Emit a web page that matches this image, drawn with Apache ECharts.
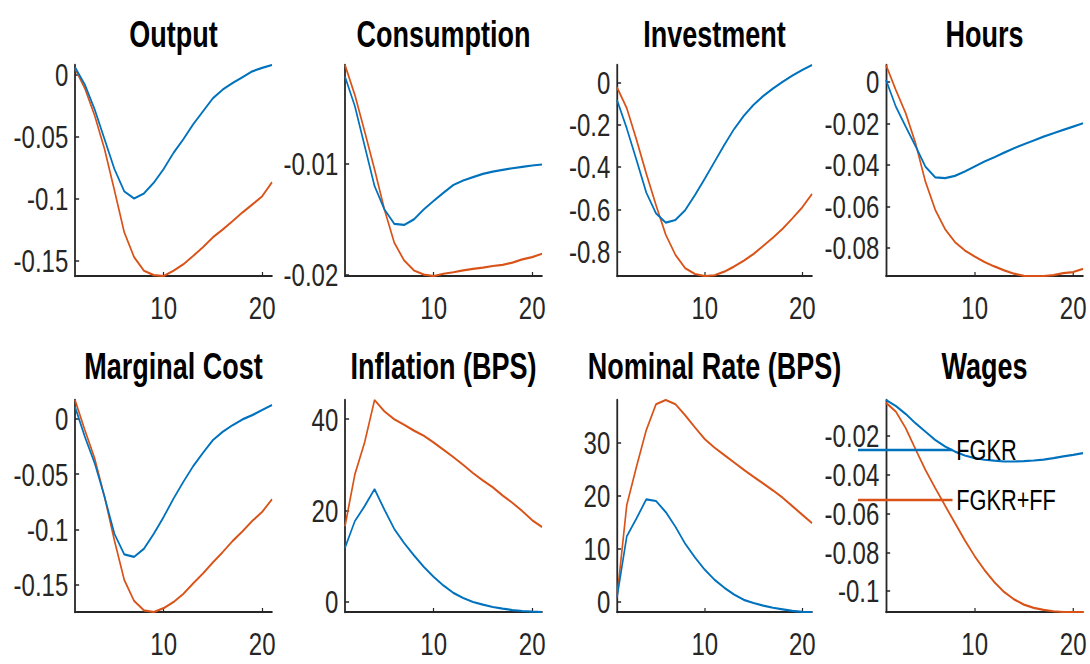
<!DOCTYPE html>
<html>
<head>
<meta charset="utf-8">
<script src="https://cdn.jsdelivr.net/npm/echarts@6/dist/echarts.min.js"></script>
<style>
  html, body { margin: 0; padding: 0; background: #fff; }
  #frame { width: 1090px; height: 664px; overflow: hidden; background: #fff; }
  /* the figure is laid out on a wider canvas and squeezed horizontally */
  #chart { width: 1453.33px; height: 664px; transform: scaleX(0.75); transform-origin: 0 0; }
</style>
</head>
<body>
<div id="frame"><div id="chart"></div></div>
<script>
// ---- data: impulse responses over 21 periods ----
const periods = [1, 2, 3, 4, 5, 6, 7, 8, 9, 10, 11, 12, 13, 14, 15, 16, 17, 18, 19, 20, 21];
const seriesNames = ['FGKR', 'FGKR+FF'];
const panelTitles = ['Output', 'Consumption', 'Investment', 'Hours',
                     'Marginal Cost', 'Inflation (BPS)', 'Nominal Rate (BPS)', 'Wages'];

const outputFGKR = [0.006, -0.008, -0.028, -0.052, -0.076, -0.094, -0.0997, -0.0957, -0.087, -0.076, -0.063, -0.052, -0.040, -0.0295, -0.019, -0.012, -0.0067, -0.002, 0.0027, 0.0055, 0.0078];
const outputFF   = [0.005, -0.011, -0.033, -0.060, -0.093, -0.127, -0.147, -0.158, -0.1615, -0.1622, -0.158, -0.1528, -0.146, -0.139, -0.131, -0.1247, -0.118, -0.111, -0.1046, -0.098, -0.0866];

const consumptionFGKR = [-0.00215, -0.0048, -0.0084, -0.012, -0.0141, -0.0154, -0.0155, -0.0150, -0.0141, -0.01334, -0.0126, -0.0119, -0.0115, -0.0112, -0.0109, -0.0107, -0.01054, -0.0104, -0.01027, -0.01015, -0.01006];
const consumptionFF   = [-0.0011, -0.0038, -0.0071, -0.0105, -0.0141, -0.0171, -0.0187, -0.0196, -0.01997, -0.0201, -0.0199, -0.01976, -0.0196, -0.01946, -0.01934, -0.0192, -0.0191, -0.0189, -0.0186, -0.0184, -0.0181];

const investmentFGKR = [-0.082, -0.216, -0.366, -0.52, -0.619, -0.663, -0.650, -0.603, -0.532, -0.455, -0.375, -0.295, -0.22, -0.157, -0.105, -0.063, -0.027, 0.005, 0.034, 0.06, 0.084];
const investmentFF   = [-0.022, -0.12, -0.27, -0.43, -0.58, -0.72, -0.816, -0.879, -0.906, -0.9155, -0.912, -0.895, -0.871, -0.843, -0.811, -0.773, -0.734, -0.691, -0.642, -0.590, -0.527];

const hoursFGKR = [0.0008, -0.012, -0.0216, -0.031, -0.0408, -0.046, -0.0464, -0.0453, -0.0432, -0.0408, -0.0384, -0.0363, -0.0341, -0.032, -0.0301, -0.0283, -0.0264, -0.0248, -0.0232, -0.0216, -0.0200];
const hoursFF   = [0.008, -0.004, -0.0152, -0.0296, -0.048, -0.0616, -0.0709, -0.0771, -0.0811, -0.084, -0.0867, -0.0888, -0.0907, -0.0923, -0.0933, -0.0934, -0.0934, -0.093, -0.092, -0.0915, -0.090];

const mcFGKR = [0.0112, -0.016, -0.040, -0.0706, -0.104, -0.1227, -0.125, -0.1176, -0.104, -0.0888, -0.0721, -0.057, -0.0427, -0.0306, -0.0191, -0.0115, -0.0055, -0.0003, 0.0036, 0.0082, 0.0127];
const mcFF   = [0.0173, -0.010, -0.0358, -0.0706, -0.11, -0.1458, -0.165, -0.1736, -0.175, -0.1715, -0.166, -0.1585, -0.149, -0.140, -0.130, -0.1206, -0.1106, -0.1018, -0.0924, -0.0842, -0.0727];

const inflationFGKR = [11.9, 17.7, 21.0, 24.7, 20.2, 16.0, 12.9, 10.2, 7.7, 5.5, 3.6, 2.0, 0.87, 0.0, -0.58, -1.09, -1.45, -1.75, -1.96, -2.1, -2.18];
const inflationFF   = [16.6, 27.9, 35.0, 44.2, 41.7, 40.0, 38.8, 37.5, 36.4, 34.9, 33.3, 31.7, 30.0, 28.2, 26.6, 25.1, 23.3, 21.7, 19.9, 17.9, 16.4];

const nominalFGKR = [0.8, 12.3, 15.7, 19.3, 19.0, 16.9, 14.1, 10.9, 8.3, 6.0, 4.1, 2.6, 1.3, 0.3, -0.3, -0.8, -1.2, -1.5, -1.8, -1.96, -2.0];
const nominalFF   = [0.8, 18.2, 25.5, 32.4, 37.3, 38.1, 37.3, 35.2, 32.9, 30.7, 29.1, 27.7, 26.3, 24.9, 23.6, 22.3, 21.0, 19.6, 18.0, 16.4, 14.8];

const wagesFGKR = [-0.0015, -0.0046, -0.0087, -0.0135, -0.0178, -0.0221, -0.0255, -0.0281, -0.0301, -0.0315, -0.0323, -0.0328, -0.0332, -0.0332, -0.033, -0.0327, -0.0322, -0.0315, -0.0306, -0.0298, -0.0289];
const wagesFF   = [-0.0029, -0.0075, -0.016, -0.0269, -0.0375, -0.0469, -0.056, -0.0649, -0.0738, -0.082, -0.0892, -0.0954, -0.1005, -0.1043, -0.107, -0.1087, -0.1097, -0.1104, -0.1108, -0.1108, -0.1108];

// ---- tick labels ----
const xTicks = [10, 20];
const outputTicks = [0, -0.05, -0.1, -0.15];
const consumptionTicks = [-0.01, -0.02];
const investmentTicks = [0, -0.2, -0.4, -0.6, -0.8];
const hoursTicks = [0, -0.02, -0.04, -0.06, -0.08];
const mcTicks = [0, -0.05, -0.1, -0.15];
const inflationTicks = [0, 20, 40];
const nominalTicks = [0, 10, 20, 30];
const wagesTicks = [-0.02, -0.04, -0.06, -0.08, -0.1];

const panelSeries = [
  [outputFGKR, outputFF], [consumptionFGKR, consumptionFF],
  [investmentFGKR, investmentFF], [hoursFGKR, hoursFF],
  [mcFGKR, mcFF], [inflationFGKR, inflationFF],
  [nominalFGKR, nominalFF], [wagesFGKR, wagesFF]
];
const panelTicks = [outputTicks, consumptionTicks, investmentTicks, hoursTicks,
                    mcTicks, inflationTicks, nominalTicks, wagesTicks];

// ---- layout (screen pixels, converted to the stretched canvas) ----
const SX = 0.75;
const colLeft = [75, 345, 617, 886];
const colRight = [272, 542, 812, 1083];
const rowTop = [65, 400];
const rowBottom = [276, 612];
const titleTop = [17, 349];

const COLORS = ['#0072BD', '#D95319'];
const AXIS = '#262626';
const FONT = "'Liberation Sans', Arial, Helvetica, sans-serif";

const grids = [], xAxes = [], yAxes = [], series = [], titles = [];
for (let i = 0; i < 8; i++) {
  const r = Math.floor(i / 4), c = i % 4;
  grids.push({
    left: colLeft[c] / SX, width: (colRight[c] - colLeft[c]) / SX,
    top: rowTop[r], height: rowBottom[r] - rowTop[r],
    outerBoundsMode: 'none', containLabel: false
  });
  titles.push({
    text: panelTitles[i], left: (colLeft[c] + colRight[c]) / 2 / SX, top: titleTop[r],
    textAlign: 'center', padding: 0,
    textStyle: { fontFamily: FONT, fontSize: 36, fontWeight: 'bold', color: '#000' }
  });
  xAxes.push({
    type: 'value', gridIndex: i, min: 1, max: 21,
    axisLine: { onZero: false, lineStyle: { color: AXIS, width: 2 } },
    axisTick: { inside: true, length: 4, customValues: xTicks, lineStyle: { color: AXIS, width: 1.6 } },
    axisLabel: { customValues: xTicks, margin: 16, fontFamily: FONT, fontSize: 32, color: AXIS },
    splitLine: { show: false }
  });
  const vals = panelSeries[i][0].concat(panelSeries[i][1]);
  yAxes.push({
    type: 'value', gridIndex: i, min: Math.min(...vals), max: Math.max(...vals),
    axisLine: { onZero: false, lineStyle: { color: AXIS, width: 2.4 } },
    axisTick: { inside: true, length: 5.5, customValues: panelTicks[i], lineStyle: { color: AXIS, width: 1.5 } },
    axisLabel: { customValues: panelTicks[i], margin: 9, fontFamily: FONT, fontSize: 32, color: AXIS,
                 formatter: v => String(v) },
    splitLine: { show: false }
  });
  for (let s = 0; s < 2; s++) {
    series.push({
      name: seriesNames[s], type: 'line', xAxisIndex: i, yAxisIndex: i,
      data: periods.map((p, k) => [p, panelSeries[i][s][k]]),
      showSymbol: false, symbol: 'none', smooth: false,
      lineStyle: { color: COLORS[s], width: 2.2 }, itemStyle: { color: COLORS[s] },
      z: s === 0 ? 3 : 2
    });
  }
}

const chart = echarts.init(document.getElementById('chart'), null, { renderer: 'svg' });
chart.setOption({
  backgroundColor: '#fff',
  animation: false,
  title: titles,
  grid: grids,
  xAxis: xAxes,
  yAxis: yAxes,
  legend: {
    data: seriesNames, orient: 'vertical', left: 858 / SX, top: 434, padding: 0,
    icon: 'rect', itemWidth: 126, itemHeight: 2.5, itemGap: 18,
    textStyle: { fontFamily: FONT, fontSize: 29, lineHeight: 32, color: '#000' },
    selectedMode: false
  },
  series: series
});
</script>
</body>
</html>
